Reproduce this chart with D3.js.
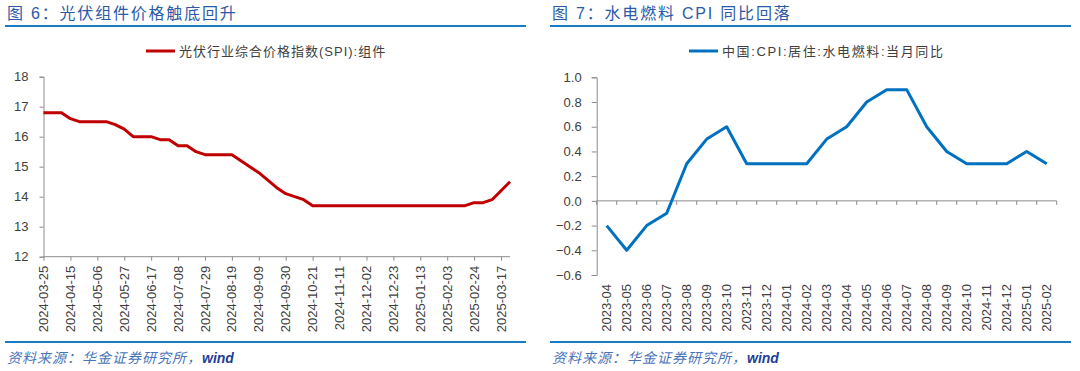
<!DOCTYPE html>
<html>
<head>
<meta charset="utf-8">
<script src="https://cdn.jsdelivr.net/npm/d3@7/dist/d3.min.js"></script>
<style>
  html, body { margin: 0; padding: 0; background: #fff; }
  svg { display: block; }
  text { font-family: "Liberation Sans", Arial, "Noto Sans CJK SC", sans-serif; }
</style>
</head>
<body>
<svg id="chart" width="1080" height="371"></svg>
<script>
// ---------- Data: left chart (weekly) ----------
const spiDates = [
  "2024-03-25","2024-04-01","2024-04-08","2024-04-15","2024-04-22","2024-04-29",
  "2024-05-06","2024-05-13","2024-05-20","2024-05-27","2024-06-03","2024-06-10",
  "2024-06-17","2024-06-24","2024-07-01","2024-07-08","2024-07-15","2024-07-22",
  "2024-07-29","2024-08-05","2024-08-12","2024-08-19","2024-08-26","2024-09-02",
  "2024-09-09","2024-09-16","2024-09-23","2024-09-30","2024-10-07","2024-10-14",
  "2024-10-21","2024-10-28","2024-11-04","2024-11-11","2024-11-18","2024-11-25",
  "2024-12-02","2024-12-09","2024-12-16","2024-12-23","2024-12-30","2025-01-06",
  "2025-01-13","2025-01-20","2025-01-27","2025-02-03","2025-02-10","2025-02-17",
  "2025-02-24","2025-03-03","2025-03-10","2025-03-17","2025-03-24"
];
const spiValues = [
  16.8, 16.8, 16.8, 16.6, 16.5, 16.5,
  16.5, 16.5, 16.4, 16.25, 16.0, 16.0,
  16.0, 15.9, 15.9, 15.7, 15.7, 15.5,
  15.4, 15.4, 15.4, 15.4, 15.2, 15.0,
  14.8, 14.55, 14.3, 14.1, 14.0, 13.9,
  13.7, 13.7, 13.7, 13.7, 13.7, 13.7,
  13.7, 13.7, 13.7, 13.7, 13.7, 13.7,
  13.7, 13.7, 13.7, 13.7, 13.7, 13.7,
  13.8, 13.8, 13.9, 14.2, 14.5
];
const spiTickLabels = [
  "2024-03-25","2024-04-15","2024-05-06","2024-05-27","2024-06-17","2024-07-08",
  "2024-07-29","2024-08-19","2024-09-09","2024-09-30","2024-10-21","2024-11-11",
  "2024-12-02","2024-12-23","2025-01-13","2025-02-03","2025-02-24","2025-03-17"
];
const spiYTicks = [12, 13, 14, 15, 16, 17, 18];

// ---------- Data: right chart (monthly) ----------
const cpiMonths = [
  "2023-04","2023-05","2023-06","2023-07","2023-08","2023-09","2023-10","2023-11",
  "2023-12","2024-01","2024-02","2024-03","2024-04","2024-05","2024-06","2024-07",
  "2024-08","2024-09","2024-10","2024-11","2024-12","2025-01","2025-02"
];
const cpiValues = [
  -0.2, -0.4, -0.2, -0.1, 0.3, 0.5, 0.6, 0.3,
  0.3, 0.3, 0.3, 0.5, 0.6, 0.8, 0.9, 0.9,
  0.6, 0.4, 0.3, 0.3, 0.3, 0.4, 0.3
];
const cpiYTicks = [-0.6, -0.4, -0.2, 0.0, 0.2, 0.4, 0.6, 0.8, 1.0];

// ---------- Texts ----------
const leftTitle = "图 6：光伏组件价格触底回升";
const rightTitle = "图 7：水电燃料 CPI 同比回落";
const leftLegend = "光伏行业综合价格指数(SPI):组件";
const rightLegend = "中国:CPI:居住:水电燃料:当月同比";
const sourceText = "资料来源：华金证券研究所，";
const sourceWind = "wind";

// ---------- Styles ----------
const titleColor = "#2b5aa6";
const ruleColor = "#1a7cc6";
const axisColor = "#8c8c8c";
const textColor = "#404040";
const redLine = "#c00000";
const blueLine = "#0070c0";

const svg = d3.select("#chart");

function header(x0, x1, title) {
  svg.append("text").attr("x", x0 + 2).attr("y", 19)
    .attr("fill", titleColor).attr("font-size", 16).attr("letter-spacing", 1.8)
    .text(title);
  svg.append("line").attr("x1", x0).attr("x2", x1).attr("y1", 26).attr("y2", 26)
    .attr("stroke", ruleColor).attr("stroke-width", 2);
  svg.append("line").attr("x1", x0).attr("x2", x1).attr("y1", 342).attr("y2", 342)
    .attr("stroke", ruleColor).attr("stroke-width", 2);
  const ft = svg.append("text").attr("x", x0 + 2).attr("y", 363)
    .attr("font-size", 14).attr("font-style", "italic").attr("letter-spacing", 1);
  ft.append("tspan").attr("fill", "#4a74b8").text(sourceText);
  ft.append("tspan").attr("fill", "#1f3f96").attr("font-weight", "bold").attr("letter-spacing", 0).text(sourceWind);
}

function legend(lx0, lx1, y, color, label, ls) {
  svg.append("line").attr("x1", lx0).attr("x2", lx1).attr("y1", y).attr("y2", y)
    .attr("stroke", color).attr("stroke-width", 3);
  svg.append("text").attr("x", lx1 + 4).attr("y", y).attr("dy", "0.35em")
    .attr("font-size", 13).attr("letter-spacing", ls).attr("fill", textColor).text(label);
}

header(5, 526, leftTitle);
header(550, 1071, rightTitle);
legend(146, 175, 51, redLine, leftLegend, 1);
legend(689, 718, 51, blueLine, rightLegend, 1.6);

// ---------- Left chart ----------
{
  const x = d3.scalePoint().domain(spiDates).range([43.5, 510]);
  const y = d3.scaleLinear().domain([12, 18]).range([256.7, 76.7]);

  const yAxis = d3.axisLeft(y).tickValues(spiYTicks).tickSize(4).tickPadding(11)
    .tickFormat(d3.format("d"));
  const gy = svg.append("g").attr("transform", `translate(${x.range()[0]},0)`).call(yAxis);
  gy.select(".domain").attr("stroke", axisColor);
  gy.selectAll(".tick line").attr("stroke", axisColor);
  gy.selectAll("text").attr("font-size", 13).attr("fill", textColor)
    .attr("font-family", "Liberation Sans, Arial, sans-serif");

  const xAxis = d3.axisBottom(x).tickValues(spiTickLabels).tickSize(4).tickFormat("");
  const gx = svg.append("g").attr("transform", `translate(0,${y(12)})`).call(xAxis);
  gx.select(".domain").attr("stroke", axisColor).attr("d", `M${x.range()[0]},0H${x.range()[1]}`);
  gx.selectAll(".tick line").attr("stroke", axisColor);

  svg.append("g").selectAll("text").data(spiTickLabels).join("text")
    .attr("transform", d => `translate(${x(d)},${y(12) + 9}) rotate(-90)`)
    .attr("text-anchor", "end").attr("dy", "0.35em")
    .attr("font-size", 13).attr("fill", textColor).text(d => d);

  const line = d3.line().x((d, i) => x(spiDates[i])).y(d => y(d));
  svg.append("path").datum(spiValues).attr("d", line)
    .attr("fill", "none").attr("stroke", redLine).attr("stroke-width", 3)
    .attr("stroke-linejoin", "round");
}

// ---------- Right chart ----------
{
  const x = d3.scaleBand().domain(cpiMonths).range([596.7, 1056.7]).paddingInner(0).paddingOuter(0);
  const y = d3.scaleLinear().domain([-0.6, 1.0]).range([275, 77.3]);

  const yAxis = d3.axisLeft(y).tickValues(cpiYTicks).tickSize(5).tickPadding(10)
    .tickFormat(d3.format(".1f"));
  const gy = svg.append("g").attr("transform", `translate(${x.range()[0]},0)`).call(yAxis);
  gy.select(".domain").attr("stroke", axisColor);
  gy.selectAll(".tick line").attr("stroke", axisColor);
  gy.selectAll("text").attr("font-size", 13).attr("fill", textColor)
    .attr("font-family", "Liberation Sans, Arial, sans-serif");

  // zero line with category boundary ticks
  const boundaries = cpiMonths.map(m => x(m)).concat([x.range()[1]]);
  const gz = svg.append("g");
  gz.append("line").attr("x1", x.range()[0]).attr("x2", x.range()[1])
    .attr("y1", y(0)).attr("y2", y(0)).attr("stroke", axisColor);
  gz.selectAll("line.tk").data(boundaries).join("line").attr("class", "tk")
    .attr("x1", d => d).attr("x2", d => d).attr("y1", y(0)).attr("y2", y(0) + 4)
    .attr("stroke", axisColor);

  svg.append("g").selectAll("text").data(cpiMonths).join("text")
    .attr("transform", d => `translate(${x(d) + x.bandwidth() / 2},${y(-0.6) + 9}) rotate(-90)`)
    .attr("text-anchor", "end").attr("dy", "0.35em")
    .attr("font-size", 13).attr("fill", textColor).text(d => d);

  const line = d3.line().x((d, i) => x(cpiMonths[i]) + x.bandwidth() / 2).y(d => y(d));
  svg.append("path").datum(cpiValues).attr("d", line)
    .attr("fill", "none").attr("stroke", blueLine).attr("stroke-width", 3)
    .attr("stroke-linejoin", "round");
}
</script>
</body>
</html>
